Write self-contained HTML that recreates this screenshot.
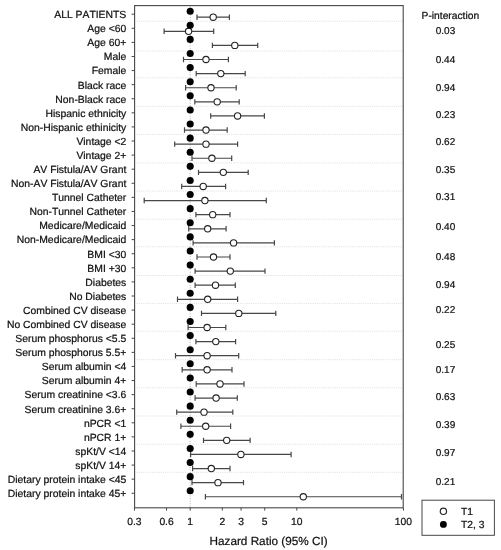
<!DOCTYPE html><html><head><meta charset="utf-8"><title>Forest plot</title>
<style>html,body{margin:0;padding:0;background:#fff}svg{display:block;will-change:transform}text{font-family:"Liberation Sans",sans-serif;fill:#111;stroke:#111;stroke-width:0.22px;font-kerning:none;text-rendering:geometricPrecision}</style></head><body>
<svg width="501" height="550" viewBox="0 0 501 550">
<rect x="0" y="0" width="501" height="550" fill="#fff"/>
<g stroke="#dedede" stroke-width="1" stroke-dasharray="1 1.2">
<line x1="136.6" x2="402.2" y1="21.2" y2="21.2"/>
<line x1="136.6" x2="402.2" y1="51.0" y2="51.0"/>
<line x1="136.6" x2="402.2" y1="77.8" y2="77.8"/>
<line x1="136.6" x2="402.2" y1="106.3" y2="106.3"/>
<line x1="136.6" x2="402.2" y1="134.4" y2="134.4"/>
<line x1="136.6" x2="402.2" y1="162.9" y2="162.9"/>
<line x1="136.6" x2="402.2" y1="191.1" y2="191.1"/>
<line x1="136.6" x2="402.2" y1="219.2" y2="219.2"/>
<line x1="136.6" x2="402.2" y1="246.8" y2="246.8"/>
<line x1="136.6" x2="402.2" y1="275.5" y2="275.5"/>
<line x1="136.6" x2="402.2" y1="303.4" y2="303.4"/>
<line x1="136.6" x2="402.2" y1="331.2" y2="331.2"/>
<line x1="136.6" x2="402.2" y1="359.7" y2="359.7"/>
<line x1="136.6" x2="402.2" y1="387.8" y2="387.8"/>
<line x1="136.6" x2="402.2" y1="416.0" y2="416.0"/>
<line x1="136.6" x2="402.2" y1="444.2" y2="444.2"/>
<line x1="136.6" x2="402.2" y1="472.3" y2="472.3"/>
<line x1="190.2" x2="190.2" y1="6.6" y2="506.8" stroke="#b0b0b0" stroke-dasharray="1 1.6"/>
</g>
<rect x="134.6" y="5.6" width="268.6" height="502.2" fill="none" stroke="#474747" stroke-width="1.1"/>
<g stroke="#474747" stroke-width="1">
<line x1="131.6" x2="134.6" y1="14.20" y2="14.20"/>
<line x1="131.6" x2="134.6" y1="28.29" y2="28.29"/>
<line x1="131.6" x2="134.6" y1="42.38" y2="42.38"/>
<line x1="131.6" x2="134.6" y1="56.47" y2="56.47"/>
<line x1="131.6" x2="134.6" y1="70.56" y2="70.56"/>
<line x1="131.6" x2="134.6" y1="84.65" y2="84.65"/>
<line x1="131.6" x2="134.6" y1="98.74" y2="98.74"/>
<line x1="131.6" x2="134.6" y1="112.83" y2="112.83"/>
<line x1="131.6" x2="134.6" y1="126.92" y2="126.92"/>
<line x1="131.6" x2="134.6" y1="141.01" y2="141.01"/>
<line x1="131.6" x2="134.6" y1="155.10" y2="155.10"/>
<line x1="131.6" x2="134.6" y1="169.19" y2="169.19"/>
<line x1="131.6" x2="134.6" y1="183.28" y2="183.28"/>
<line x1="131.6" x2="134.6" y1="197.37" y2="197.37"/>
<line x1="131.6" x2="134.6" y1="211.46" y2="211.46"/>
<line x1="131.6" x2="134.6" y1="225.55" y2="225.55"/>
<line x1="131.6" x2="134.6" y1="239.64" y2="239.64"/>
<line x1="131.6" x2="134.6" y1="253.73" y2="253.73"/>
<line x1="131.6" x2="134.6" y1="267.82" y2="267.82"/>
<line x1="131.6" x2="134.6" y1="281.91" y2="281.91"/>
<line x1="131.6" x2="134.6" y1="296.00" y2="296.00"/>
<line x1="131.6" x2="134.6" y1="310.09" y2="310.09"/>
<line x1="131.6" x2="134.6" y1="324.18" y2="324.18"/>
<line x1="131.6" x2="134.6" y1="338.27" y2="338.27"/>
<line x1="131.6" x2="134.6" y1="352.36" y2="352.36"/>
<line x1="131.6" x2="134.6" y1="366.45" y2="366.45"/>
<line x1="131.6" x2="134.6" y1="380.54" y2="380.54"/>
<line x1="131.6" x2="134.6" y1="394.63" y2="394.63"/>
<line x1="131.6" x2="134.6" y1="408.72" y2="408.72"/>
<line x1="131.6" x2="134.6" y1="422.81" y2="422.81"/>
<line x1="131.6" x2="134.6" y1="436.90" y2="436.90"/>
<line x1="131.6" x2="134.6" y1="450.99" y2="450.99"/>
<line x1="131.6" x2="134.6" y1="465.08" y2="465.08"/>
<line x1="131.6" x2="134.6" y1="479.17" y2="479.17"/>
<line x1="131.6" x2="134.6" y1="493.26" y2="493.26"/>
<line x1="134.46" x2="134.46" y1="507.8" y2="510.6"/>
<line x1="166.55" x2="166.55" y1="507.8" y2="510.6"/>
<line x1="190.20" x2="190.20" y1="507.8" y2="510.6"/>
<line x1="222.29" x2="222.29" y1="507.8" y2="510.6"/>
<line x1="241.06" x2="241.06" y1="507.8" y2="510.6"/>
<line x1="264.71" x2="264.71" y1="507.8" y2="510.6"/>
<line x1="296.80" x2="296.80" y1="507.8" y2="510.6"/>
<line x1="403.40" x2="403.40" y1="507.8" y2="510.6"/>
</g>
<g font-size="10.38" text-anchor="end">
<text x="126.3" y="18.05">ALL PATIENTS</text>
<text x="126.3" y="32.14">Age &lt;60</text>
<text x="126.3" y="46.23">Age 60+</text>
<text x="126.3" y="60.32">Male</text>
<text x="126.3" y="74.41">Female</text>
<text x="126.3" y="88.50">Black race</text>
<text x="126.3" y="102.59">Non-Black race</text>
<text x="126.3" y="116.68">Hispanic ethnicity</text>
<text x="126.3" y="130.77">Non-Hispanic ethinicity</text>
<text x="126.3" y="144.86">Vintage &lt;2</text>
<text x="126.3" y="158.95">Vintage 2+</text>
<text x="126.3" y="173.04">AV Fistula/AV Grant</text>
<text x="126.3" y="187.13">Non-AV Fistula/AV Grant</text>
<text x="126.3" y="201.22">Tunnel Catheter</text>
<text x="126.3" y="215.31">Non-Tunnel Catheter</text>
<text x="126.3" y="229.40">Medicare/Medicaid</text>
<text x="126.3" y="243.49">Non-Medicare/Medicaid</text>
<text x="126.3" y="257.58">BMI &lt;30</text>
<text x="126.3" y="271.67">BMI +30</text>
<text x="126.3" y="285.76">Diabetes</text>
<text x="126.3" y="299.85">No Diabetes</text>
<text x="126.3" y="313.94">Combined CV disease</text>
<text x="126.3" y="328.03">No Combined CV disease</text>
<text x="126.3" y="342.12">Serum phosphorus &lt;5.5</text>
<text x="126.3" y="356.21">Serum phosphorus 5.5+</text>
<text x="126.3" y="370.30">Serum albumin &lt;4</text>
<text x="126.3" y="384.39">Serum albumin 4+</text>
<text x="126.3" y="398.48">Serum creatinine &lt;3.6</text>
<text x="126.3" y="412.57">Serum creatinine 3.6+</text>
<text x="126.3" y="426.66">nPCR &lt;1</text>
<text x="126.3" y="440.75">nPCR 1+</text>
<text x="126.3" y="454.84">spKt/V &lt;14</text>
<text x="126.3" y="468.93">spKt/V 14+</text>
<text x="126.3" y="483.02">Dietary protein intake &lt;45</text>
<text x="126.3" y="497.11">Dietary protein intake 45+</text>
</g>
<g font-size="10.3" text-anchor="middle" style="stroke-width:0.3px">
<text x="134.46" y="524.75">0.3</text>
<text x="166.55" y="524.75">0.6</text>
<text x="190.20" y="524.75">1</text>
<text x="222.29" y="524.75">2</text>
<text x="241.06" y="524.75">3</text>
<text x="264.71" y="524.75">5</text>
<text x="296.80" y="524.75">10</text>
<text x="403.40" y="524.75">100</text>
</g>
<text x="268.6" y="544.7" font-size="11.75" text-anchor="middle">Hazard Ratio (95% CI)</text>
<g stroke="#474747" stroke-width="1.2" fill="none">
<path d="M197.0 14.50V19.90M229.4 14.50V19.90M197.0 17.20H229.4"/>
<path d="M164.1 28.61V34.01M213.7 28.61V34.01M164.1 31.30H213.7"/>
<path d="M212.4 42.71V48.11M257.7 42.71V48.11M212.4 45.41H257.7"/>
<path d="M183.5 56.81V62.22M228.4 56.81V62.22M183.5 59.52H228.4"/>
<path d="M196.2 70.92V76.32M245.2 70.92V76.32M196.2 73.62H245.2"/>
<path d="M185.6 85.03V90.43M236.2 85.03V90.43M185.6 87.73H236.2"/>
<path d="M194.8 99.13V104.53M239.2 99.13V104.53M194.8 101.83H239.2"/>
<path d="M210.7 113.23V118.64M264.4 113.23V118.64M210.7 115.94H264.4"/>
<path d="M184.5 127.34V132.74M227.2 127.34V132.74M184.5 130.04H227.2"/>
<path d="M174.7 141.45V146.84M237.6 141.45V146.84M174.7 144.15H237.6"/>
<path d="M192.0 155.55V160.95M231.7 155.55V160.95M192.0 158.25H231.7"/>
<path d="M198.5 169.66V175.05M248.2 169.66V175.05M198.5 172.35H248.2"/>
<path d="M181.7 183.76V189.16M225.6 183.76V189.16M181.7 186.46H225.6"/>
<path d="M144.2 197.87V203.26M266.3 197.87V203.26M144.2 200.56H266.3"/>
<path d="M195.9 211.97V217.37M230.0 211.97V217.37M195.9 214.67H230.0"/>
<path d="M188.7 226.08V231.47M226.1 226.08V231.47M188.7 228.78H226.1"/>
<path d="M193.1 240.18V245.58M274.4 240.18V245.58M193.1 242.88H274.4"/>
<path d="M197.0 254.29V259.69M230.0 254.29V259.69M197.0 256.99H230.0"/>
<path d="M195.1 268.39V273.79M265.0 268.39V273.79M195.1 271.09H265.0"/>
<path d="M195.1 282.50V287.89M235.3 282.50V287.89M195.1 285.19H235.3"/>
<path d="M177.5 296.60V302.00M237.6 296.60V302.00M177.5 299.30H237.6"/>
<path d="M201.5 310.70V316.10M275.8 310.70V316.10M201.5 313.40H275.8"/>
<path d="M188.1 324.81V330.21M225.8 324.81V330.21M188.1 327.51H225.8"/>
<path d="M195.9 338.92V344.31M235.6 338.92V344.31M195.9 341.62H235.6"/>
<path d="M175.5 353.02V358.42M238.7 353.02V358.42M175.5 355.72H238.7"/>
<path d="M182.2 367.12V372.52M232.0 367.12V372.52M182.2 369.82H232.0"/>
<path d="M196.2 381.23V386.63M244.0 381.23V386.63M196.2 383.93H244.0"/>
<path d="M195.1 395.34V400.74M237.3 395.34V400.74M195.1 398.04H237.3"/>
<path d="M176.7 409.44V414.84M232.8 409.44V414.84M176.7 412.14H232.8"/>
<path d="M180.9 423.55V428.94M230.6 423.55V428.94M180.9 426.25H230.6"/>
<path d="M203.5 437.65V443.05M250.1 437.65V443.05M203.5 440.35H250.1"/>
<path d="M190.6 451.75V457.15M291.1 451.75V457.15M190.6 454.45H291.1"/>
<path d="M192.6 465.86V471.26M230.0 465.86V471.26M192.6 468.56H230.0"/>
<path d="M192.0 479.97V485.37M243.5 479.97V485.37M192.0 482.67H243.5"/>
<path d="M205.4 494.07V499.47M401.5 494.07V499.47M205.4 496.77H401.5"/>
</g>
<g>
<circle cx="213.2" cy="17.20" r="3.15" fill="#fff" stroke="#222" stroke-width="1.1"/>
<circle cx="190.2" cy="11.20" r="3.55" fill="#000"/>
<circle cx="188.6" cy="31.30" r="3.15" fill="#fff" stroke="#222" stroke-width="1.1"/>
<circle cx="190.2" cy="25.30" r="3.55" fill="#000"/>
<circle cx="234.8" cy="45.41" r="3.15" fill="#fff" stroke="#222" stroke-width="1.1"/>
<circle cx="190.2" cy="39.41" r="3.55" fill="#000"/>
<circle cx="206.0" cy="59.52" r="3.15" fill="#fff" stroke="#222" stroke-width="1.1"/>
<circle cx="190.2" cy="53.52" r="3.55" fill="#000"/>
<circle cx="220.8" cy="73.62" r="3.15" fill="#fff" stroke="#222" stroke-width="1.1"/>
<circle cx="190.2" cy="67.62" r="3.55" fill="#000"/>
<circle cx="211.0" cy="87.73" r="3.15" fill="#fff" stroke="#222" stroke-width="1.1"/>
<circle cx="190.2" cy="81.73" r="3.55" fill="#000"/>
<circle cx="217.2" cy="101.83" r="3.15" fill="#fff" stroke="#222" stroke-width="1.1"/>
<circle cx="190.2" cy="95.83" r="3.55" fill="#000"/>
<circle cx="237.6" cy="115.94" r="3.15" fill="#fff" stroke="#222" stroke-width="1.1"/>
<circle cx="190.2" cy="109.94" r="3.55" fill="#000"/>
<circle cx="206.0" cy="130.04" r="3.15" fill="#fff" stroke="#222" stroke-width="1.1"/>
<circle cx="190.2" cy="124.04" r="3.55" fill="#000"/>
<circle cx="206.0" cy="144.15" r="3.15" fill="#fff" stroke="#222" stroke-width="1.1"/>
<circle cx="190.2" cy="138.15" r="3.55" fill="#000"/>
<circle cx="211.9" cy="158.25" r="3.15" fill="#fff" stroke="#222" stroke-width="1.1"/>
<circle cx="190.2" cy="152.25" r="3.55" fill="#000"/>
<circle cx="223.3" cy="172.35" r="3.15" fill="#fff" stroke="#222" stroke-width="1.1"/>
<circle cx="190.2" cy="166.35" r="3.55" fill="#000"/>
<circle cx="203.2" cy="186.46" r="3.15" fill="#fff" stroke="#222" stroke-width="1.1"/>
<circle cx="190.2" cy="180.46" r="3.55" fill="#000"/>
<circle cx="204.9" cy="200.56" r="3.15" fill="#fff" stroke="#222" stroke-width="1.1"/>
<circle cx="190.2" cy="194.56" r="3.55" fill="#000"/>
<circle cx="212.7" cy="214.67" r="3.15" fill="#fff" stroke="#222" stroke-width="1.1"/>
<circle cx="190.2" cy="208.67" r="3.55" fill="#000"/>
<circle cx="207.7" cy="228.78" r="3.15" fill="#fff" stroke="#222" stroke-width="1.1"/>
<circle cx="190.2" cy="222.78" r="3.55" fill="#000"/>
<circle cx="233.6" cy="242.88" r="3.15" fill="#fff" stroke="#222" stroke-width="1.1"/>
<circle cx="190.2" cy="236.88" r="3.55" fill="#000"/>
<circle cx="213.5" cy="256.99" r="3.15" fill="#fff" stroke="#222" stroke-width="1.1"/>
<circle cx="190.2" cy="250.98" r="3.55" fill="#000"/>
<circle cx="230.3" cy="271.09" r="3.15" fill="#fff" stroke="#222" stroke-width="1.1"/>
<circle cx="190.2" cy="265.09" r="3.55" fill="#000"/>
<circle cx="215.5" cy="285.19" r="3.15" fill="#fff" stroke="#222" stroke-width="1.1"/>
<circle cx="190.2" cy="279.19" r="3.55" fill="#000"/>
<circle cx="207.7" cy="299.30" r="3.15" fill="#fff" stroke="#222" stroke-width="1.1"/>
<circle cx="190.2" cy="293.30" r="3.55" fill="#000"/>
<circle cx="238.8" cy="313.40" r="3.15" fill="#fff" stroke="#222" stroke-width="1.1"/>
<circle cx="190.2" cy="307.40" r="3.55" fill="#000"/>
<circle cx="207.1" cy="327.51" r="3.15" fill="#fff" stroke="#222" stroke-width="1.1"/>
<circle cx="190.2" cy="321.51" r="3.55" fill="#000"/>
<circle cx="215.8" cy="341.62" r="3.15" fill="#fff" stroke="#222" stroke-width="1.1"/>
<circle cx="190.2" cy="335.62" r="3.55" fill="#000"/>
<circle cx="207.1" cy="355.72" r="3.15" fill="#fff" stroke="#222" stroke-width="1.1"/>
<circle cx="190.2" cy="349.72" r="3.55" fill="#000"/>
<circle cx="207.1" cy="369.82" r="3.15" fill="#fff" stroke="#222" stroke-width="1.1"/>
<circle cx="190.2" cy="363.82" r="3.55" fill="#000"/>
<circle cx="220.0" cy="383.93" r="3.15" fill="#fff" stroke="#222" stroke-width="1.1"/>
<circle cx="190.2" cy="377.93" r="3.55" fill="#000"/>
<circle cx="216.1" cy="398.04" r="3.15" fill="#fff" stroke="#222" stroke-width="1.1"/>
<circle cx="190.2" cy="392.04" r="3.55" fill="#000"/>
<circle cx="204.0" cy="412.14" r="3.15" fill="#fff" stroke="#222" stroke-width="1.1"/>
<circle cx="190.2" cy="406.14" r="3.55" fill="#000"/>
<circle cx="205.7" cy="426.25" r="3.15" fill="#fff" stroke="#222" stroke-width="1.1"/>
<circle cx="190.2" cy="420.25" r="3.55" fill="#000"/>
<circle cx="226.7" cy="440.35" r="3.15" fill="#fff" stroke="#222" stroke-width="1.1"/>
<circle cx="190.2" cy="434.35" r="3.55" fill="#000"/>
<circle cx="240.9" cy="454.45" r="3.15" fill="#fff" stroke="#222" stroke-width="1.1"/>
<circle cx="190.2" cy="448.45" r="3.55" fill="#000"/>
<circle cx="211.3" cy="468.56" r="3.15" fill="#fff" stroke="#222" stroke-width="1.1"/>
<circle cx="190.2" cy="462.56" r="3.55" fill="#000"/>
<circle cx="218.0" cy="482.67" r="3.15" fill="#fff" stroke="#222" stroke-width="1.1"/>
<circle cx="190.2" cy="476.67" r="3.55" fill="#000"/>
<circle cx="303.3" cy="496.77" r="3.15" fill="#fff" stroke="#222" stroke-width="1.1"/>
<circle cx="190.2" cy="490.77" r="3.55" fill="#000"/>
</g>
<g font-size="10.26">
<text x="421.6" y="18.7">P-interaction</text>
<text x="445.5" y="34.3" text-anchor="middle" font-size="10">0.03</text>
<text x="445.5" y="62.5" text-anchor="middle" font-size="10">0.44</text>
<text x="445.5" y="90.5" text-anchor="middle" font-size="10">0.94</text>
<text x="445.5" y="118.0" text-anchor="middle" font-size="10">0.23</text>
<text x="445.5" y="145.4" text-anchor="middle" font-size="10">0.62</text>
<text x="445.5" y="172.7" text-anchor="middle" font-size="10">0.35</text>
<text x="445.5" y="199.6" text-anchor="middle" font-size="10">0.31</text>
<text x="445.5" y="229.8" text-anchor="middle" font-size="10">0.40</text>
<text x="445.5" y="259.9" text-anchor="middle" font-size="10">0.48</text>
<text x="445.5" y="287.9" text-anchor="middle" font-size="10">0.94</text>
<text x="445.5" y="312.9" text-anchor="middle" font-size="10">0.22</text>
<text x="445.5" y="348.1" text-anchor="middle" font-size="10">0.25</text>
<text x="445.5" y="373.2" text-anchor="middle" font-size="10">0.17</text>
<text x="445.5" y="400.4" text-anchor="middle" font-size="10">0.63</text>
<text x="445.5" y="428.1" text-anchor="middle" font-size="10">0.39</text>
<text x="445.5" y="455.8" text-anchor="middle" font-size="10">0.97</text>
<text x="445.5" y="485.2" text-anchor="middle" font-size="10">0.21</text>
</g>
<rect x="422.0" y="500.2" width="72.4" height="35.1" fill="#fff" stroke="#474747" stroke-width="1"/>
<circle cx="443.4" cy="511.3" r="3.15" fill="#fff" stroke="#222" stroke-width="1.15"/>
<circle cx="443.4" cy="524.4" r="3.45" fill="#000"/>
<text x="461.0" y="514.8" font-size="10.3">T1</text>
<text x="461.0" y="528.2" font-size="10.3">T2, 3</text>
</svg></body></html>
